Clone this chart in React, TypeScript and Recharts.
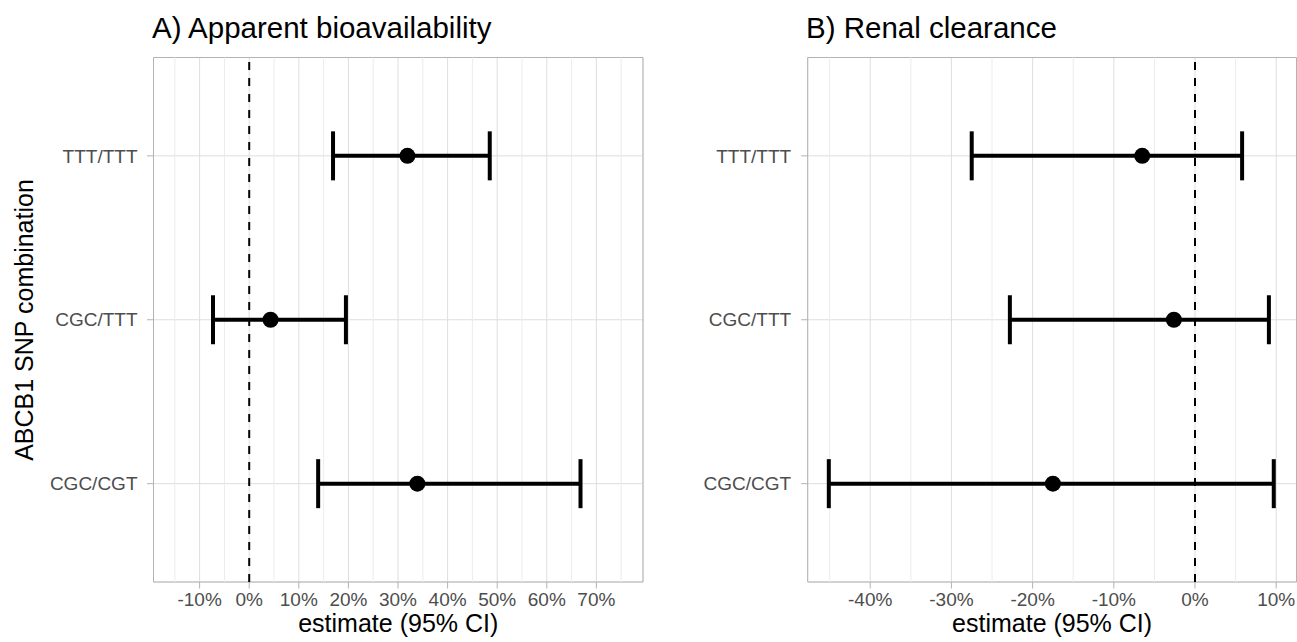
import {
  ComposedChart,
  Scatter,
  ErrorBar,
  XAxis,
  YAxis,
  CartesianGrid,
  ReferenceLine,
  ReferenceArea,
} from 'recharts';

// rows from bottom to top
const snpCombos = ['CGC/CGT', 'CGC/TTT', 'TTT/TTT'];

const bioEstimate = [33.9, 4.3, 31.9];
const bioLower = [13.9, -7.3, 16.9];
const bioUpper = [66.8, 19.5, 48.5];

const renalEstimate = [-17.5, -2.6, -6.5];
const renalLower = [-45.1, -22.8, -27.5];
const renalUpper = [9.7, 9.1, 5.8];

const bioTicks = [-10, 0, 10, 20, 30, 40, 50, 60, 70];
const bioMinor = [-15, -5, 5, 15, 25, 35, 45, 55, 65, 75];
const renalTicks = [-40, -30, -20, -10, 0, 10];
const renalMinor = [-45, -35, -25, -15, -5, 5];

const bioRange: [number, number] = [-19.3, 79.4];
const renalRange: [number, number] = [-47.7, 12.5];
const rowRange: [number, number] = [0.4, 3.6];

const font = '"Liberation Sans", Arial, Helvetica, sans-serif';

const Dot = (props: any) => <circle cx={props.cx} cy={props.cy} r={8} fill="#000" />;

interface PanelProps {
  est: number[];
  lo: number[];
  hi: number[];
  ticks: number[];
  minor: number[];
  range: [number, number];
  width: number;
  yAxisWidth: number;
  rightMargin: number;
  yTickMargin: number;
}

function Panel({ est, lo, hi, ticks, minor, range, width, yAxisWidth, rightMargin, yTickMargin }: PanelProps) {
  const rows = est.map((e, i) => ({ pos: i + 1, est: e, ci: [e - lo[i], hi[i] - e] }));

  return (
    <ComposedChart width={width} height={642} margin={{ top: 57.5, right: rightMargin, bottom: 0, left: 0 }}>
      <CartesianGrid stroke="#dedede" />
      {minor.map((v) => (
        <ReferenceLine key={v} x={v} stroke="#ececec" strokeWidth={1} />
      ))}
      <ReferenceArea x1={range[0]} x2={range[1]} y1={rowRange[0]} y2={rowRange[1]} fill="none" fillOpacity={0} stroke="#b3b3b3" strokeWidth={1} />
      <ReferenceLine x={0} stroke="#000" strokeWidth={2} strokeDasharray="8 8" />
      <XAxis
        type="number"
        dataKey="est"
        domain={range}
        ticks={ticks}
        interval={0}
        allowDataOverflow
        axisLine={false}
        tickSize={6.5}
        tickMargin={4.5}
        tickLine={{ stroke: '#b3b3b3' }}
        tick={{ fill: '#4d4d4d', fontSize: 19 }}
        tickFormatter={(v) => `${v}%`}
        height={60}
        label={{ value: 'estimate (95% CI)', position: 'insideBottom', offset: 10, fill: '#000', fontSize: 25 }}
      />
      <YAxis
        type="number"
        dataKey="pos"
        domain={rowRange}
        ticks={[1, 2, 3]}
        interval={0}
        allowDataOverflow
        axisLine={false}
        tickSize={6.5}
        tickMargin={yTickMargin}
        tickLine={{ stroke: '#b3b3b3' }}
        tick={{ fill: '#4d4d4d', fontSize: 19 }}
        tickFormatter={(v) => snpCombos[v - 1]}
        width={yAxisWidth}
      />
      <Scatter data={rows} isAnimationActive={false} shape={Dot}>
        <ErrorBar dataKey="ci" direction="x" width={24.5} strokeWidth={4} stroke="#000" isAnimationActive={false} />
      </Scatter>
    </ComposedChart>
  );
}

export default function App() {
  return (
    <div style={{ position: 'absolute', left: 0, top: 0, width: 1297, height: 642, background: '#fff', fontFamily: font }}>
      <div style={{ position: 'absolute', left: 0, top: 0 }}>
        <Panel
          est={bioEstimate}
          lo={bioLower}
          hi={bioUpper}
          ticks={bioTicks}
          minor={bioMinor}
          range={bioRange}
          width={650}
          yAxisWidth={153.5}
          rightMargin={7}
          yTickMargin={9.5}
        />
      </div>
      <div style={{ position: 'absolute', left: 650, top: 0 }}>
        <Panel
          est={renalEstimate}
          lo={renalLower}
          hi={renalUpper}
          ticks={renalTicks}
          minor={renalMinor}
          range={renalRange}
          width={647}
          yAxisWidth={157.7}
          rightMargin={0.5}
          yTickMargin={10}
        />
      </div>
      <svg width={1297} height={642} style={{ position: 'absolute', left: 0, top: 0, pointerEvents: 'none', fontFamily: font }}>
        <text x={152} y={37.5} fontSize={29.5} fill="#000">A) Apparent bioavailability</text>
        <text x={806} y={37.5} fontSize={29.5} fill="#000">B) Renal clearance</text>
        <text transform="translate(32.5,320) rotate(-90)" textAnchor="middle" fontSize={25} fill="#000">
          ABCB1 SNP combination
        </text>
      </svg>
    </div>
  );
}
